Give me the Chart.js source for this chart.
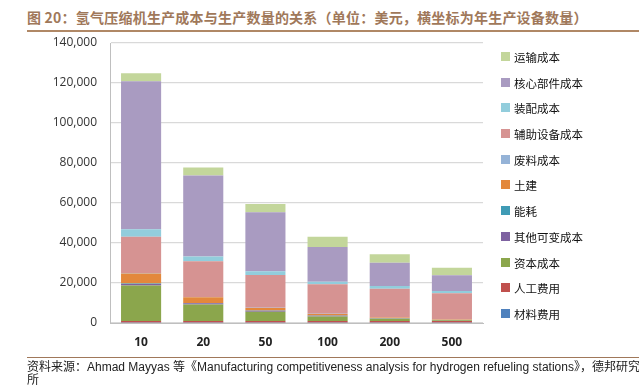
<!DOCTYPE html>
<html>
<head>
<meta charset="utf-8">
<script src="https://cdn.jsdelivr.net/npm/chart.js@4/dist/chart.umd.min.js"></script>
<style>
  html, body { margin: 0; padding: 0; background: #fff; }
  body { width: 639px; height: 385px; position: relative; overflow: hidden; font-family: "Noto Sans CJK SC", sans-serif; }
  #title { position: absolute; left: 27px; top: 7px; font-size: 14px; line-height: 20px; font-weight: bold; color: #a0785a; white-space: nowrap; letter-spacing: 0.22px; }
  #topLine { position: absolute; left: 27px; right: 0; top: 30px; height: 2px; background: #b08866; }
  #bottomLine { position: absolute; left: 27px; right: 0; top: 357px; height: 1px; background: #a0785a; }
  #chartWrap { position: absolute; left: 0; top: 0; width: 639px; height: 385px; }
  #legend { position: absolute; left: 501px; top: 49px; }
  .lg-item { height: 25.7px; display: flex; align-items: flex-start; font-size: 11.5px; color: #111; }
  .lg-box { width: 9px; height: 9px; margin: 3px 4px 0 0; }
  #source { position: absolute; left: 27px; top: 361px; width: 618px; font-family: "Liberation Sans", "Noto Sans CJK SC", sans-serif; font-size: 12px; line-height: 12.5px; color: #222; }
</style>
</head>
<body>
<div id="title">图 20：氢气压缩机生产成本与生产数量的关系（单位：美元，横坐标为年生产设备数量）</div>
<div id="topLine"></div>
<div id="chartWrap"><canvas id="costChart" width="639" height="385"></canvas></div>
<div id="legend"></div>
<div id="bottomLine"></div>
<div id="source">资料来源：Ahmad Mayyas 等《Manufacturing competitiveness analysis for hydrogen refueling stations》，德邦研究所</div>
<script>
// categories: annual production volume
const categories = ["10", "20", "50", "100", "200", "500"];

// cost components, bottom of the stack first
const material   = [300, 300, 300, 300, 300, 300];
const labor      = [700, 700, 700, 700, 700, 700];
const capital    = [17800, 8200, 4600, 2300, 1100, 400];
const otherVar   = [700, 700, 500, 300, 200, 100];
const energy     = [200, 150, 100, 100, 100, 50];
const civil      = [5100, 2800, 1300, 800, 300, 200];
const scrap      = [200, 150, 100, 100, 100, 100];
const auxiliary  = [18100, 17850, 16400, 14730, 14370, 12980];
const assembly   = [3800, 2340, 1830, 1340, 1330, 1170];
const coreParts  = [74000, 40500, 29500, 17330, 11670, 7830];
const transport  = [4000, 4000, 4170, 5170, 4160, 3840];

const seriesNames  = ["材料费用", "人工费用", "资本成本", "其他可变成本", "能耗", "土建", "废料成本", "辅助设备成本", "装配成本", "核心部件成本", "运输成本"];
const seriesValues = [material, labor, capital, otherVar, energy, civil, scrap, auxiliary, assembly, coreParts, transport];
const seriesColors = ["#4f81bd", "#c0504d", "#8ba64c", "#7e62a1", "#3f9bb5", "#e3883c", "#95b3d7", "#d69392", "#92cddc", "#a99bc1", "#c3d69b"];

const yTicks = [0, 20000, 40000, 60000, 80000, 100000, 120000, 140000];

// legend (top item = last stacked series)
const legendEl = document.getElementById("legend");
for (let i = seriesNames.length - 1; i >= 0; i--) {
  const item = document.createElement("div");
  item.className = "lg-item";
  item.innerHTML = `<span class="lg-box" style="background:${seriesColors[i]}"></span><span>${seriesNames[i]}</span>`;
  legendEl.appendChild(item);
}

const ctx = document.getElementById("costChart").getContext("2d");
new Chart(ctx, {
  type: "bar",
  data: {
    labels: categories,
    datasets: seriesNames.map((name, i) => ({
      label: name,
      data: seriesValues[i],
      backgroundColor: seriesColors[i],
      borderWidth: 0,
      barPercentage: 0.645,
      categoryPercentage: 1
    }))
  },
  options: {
    responsive: false,
    animation: false,
    layout: { padding: { top: 43, right: 156, bottom: 32, left: 0 } },
    plugins: { legend: { display: false }, tooltip: { enabled: false } },
    scales: {
      x: {
        stacked: true,
        grid: { display: false, drawTicks: false },
        border: { color: "#bfbfbf", width: 1 },
        ticks: { padding: 12, color: "#222", font: { family: "Open Sans", size: 12, weight: "bold" } },
        afterFit: (s) => { s.height = 30; }
      },
      y: {
        stacked: true,
        min: 0,
        max: 140000,
        afterBuildTicks: (s) => { s.ticks = yTicks.map(v => ({ value: v })); },
        grid: { color: "#d9d9d9", lineWidth: 1.3, drawTicks: false },
        border: { color: "#bfbfbf", width: 1 },
        ticks: {
          padding: 13,
          color: "#333",
          font: { family: "Open Sans", size: 12 },
          callback: (v) => v.toLocaleString("en-US")
        },
        afterFit: (s) => { s.width = 110; }
      }
    }
  }
});
</script>
</body>
</html>
